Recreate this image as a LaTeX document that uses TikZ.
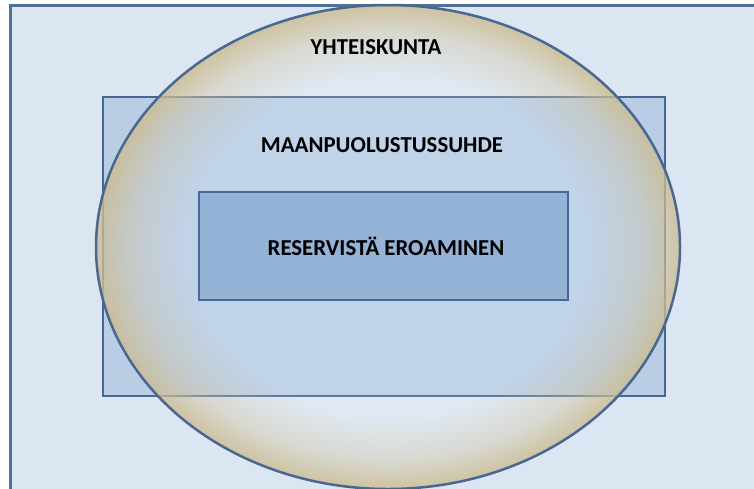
\documentclass[tikz,border=0pt]{standalone}
\usepackage{fontspec}
\setmainfont{Carlito}
\usetikzlibrary{fadings}
\definecolor{bgfill}{HTML}{DCE6F2}
\definecolor{outerline}{HTML}{50709A}
\definecolor{edgeblue}{HTML}{486893}
\definecolor{midfill}{HTML}{B9CDE5}
\definecolor{innerfill}{HTML}{95B3D7}
\definecolor{tanedge}{HTML}{CBBA8E}
\pgfdeclareradialshading{edgeshade}{\pgfpointorigin}{color(0bp)=(pgftransparent!100); color(17.5bp)=(pgftransparent!100); color(22bp)=(pgftransparent!65); color(25bp)=(pgftransparent!18); color(50bp)=(pgftransparent!18)}
\pgfdeclarefading{edgefade}{\pgfuseshading{edgeshade}}
\tikzset{
  outerbox/.style={draw=outerline, line width=3pt, fill=bgfill},
  midbox/.style={draw=edgeblue, line width=2pt, fill=midfill},
  innerbox/.style={draw=edgeblue, line width=2pt, fill=innerfill, inner sep=0pt},
  lbl/.style={font=\bfseries\fontsize{22.8}{27}\selectfont, text=black, inner sep=0pt}
}
\begin{document}
\begin{tikzpicture}[x=1pt,y=-1pt]
\useasboundingbox (0,0) rectangle (754,488);
\clip (0,0) rectangle (754,488);
\draw[outerbox] (10.5,5.5) rectangle (770,490.5);
\node[midbox, minimum width=562pt, minimum height=299pt, inner sep=0pt] (mid) at (384,246.5) {};
\fill[white, opacity=0.12] (388,247) ellipse [x radius=292, y radius=242];
\fill[tanedge, path fading=edgefade] (388,247) ellipse [x radius=292, y radius=242];
\draw[edgeblue, line width=2.5pt] (388,247) ellipse [x radius=292, y radius=242];
\node[innerbox, minimum width=369pt, minimum height=108pt] (inner) at (383.5,246) {};
\node[lbl] (soc) at (376,47) {YHTEISKUNTA};
\node[lbl] (def) at (382,145) {MAANPUOLUSTUSSUHDE};
\node[lbl] (res) at (386,246) {RESERVISTÄ EROAMINEN};
\end{tikzpicture}
\end{document}
